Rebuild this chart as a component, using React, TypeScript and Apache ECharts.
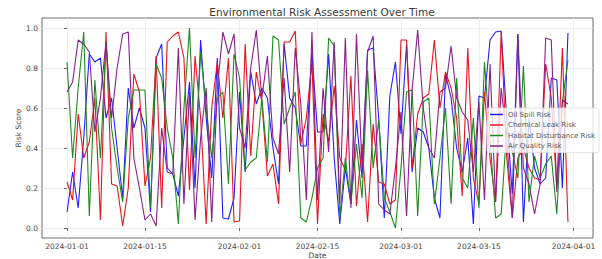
import React, { useEffect, useRef } from "react";
import * as echarts from "echarts";

const startDate = "2024-01-01";
const tickLabels = ["2024-01-01", "2024-01-15", "2024-02-01", "2024-02-15", "2024-03-01", "2024-03-15", "2024-04-01"];
const yTicks = [0, 0.2, 0.4, 0.6, 0.8, 1.0];
const seriesNames = ["Oil Spill Risk", "Chemical Leak Risk", "Habitat Disturbance Risk", "Air Quality Risk"];
const seriesColors = ["#1f1fff", "#e8141a", "#1f8a1f", "#8a1f8a"];

const oilSpill = [
  0.08, 0.28, 0.10, 0.45, 0.87, 0.83, 0.85, 0.55, 0.65, 0.40,
  0.15, 0.70, 0.50, 0.60, 0.50, 0.08, 0.85, 0.92, 0.30, 0.27,
  0.16, 0.45, 0.73, 0.20, 0.94, 0.55, 0.25, 0.85, 0.05, 0.045,
  0.15, 0.68, 0.28, 0.78, 0.62, 0.70, 0.65, 0.40, 0.22, 0.92,
  0.65, 0.60, 0.41, 0.41, 0.88, 0.48, 0.48, 0.87, 0.35, 0.02,
  0.30, 0.12, 0.54, 0.25, 0.89, 0.90, 0.55, 0.05, 0.66, 0.83,
  0.47, 0.92, 0.28, 0.50, 0.48, 0.40, 0.15, 0.05, 0.77, 0.65,
  0.40, 0.28, 0.45, 0.02, 0.66, 0.65, 0.94, 0.98, 0.985, 0.55,
  0.17, 0.97, 0.03, 0.55, 0.30, 0.22, 0.25, 0.75, 0.74, 0.20,
  0.975,
];
const chemicalLeak = [
  0.23, 0.14, 0.57, 0.35, 0.43, 0.65, 0.04, 0.98, 0.22, 0.21,
  0.01, 0.20, 0.77, 0.68, 0.21, 0.35, 0.86, 0.10, 0.93, 0.96,
  0.98, 0.85, 0.19, 0.86, 0.55, 0.02, 0.60, 0.83, 0.55, 0.85,
  0.03, 0.035, 0.92, 0.36, 0.78, 0.63, 0.26, 0.32, 0.12, 0.93,
  0.93, 0.985, 0.42, 0.55, 0.83, 0.02, 0.57, 0.43, 0.71, 0.35,
  0.29, 0.76, 0.11, 0.42, 0.03, 0.52, 0.23, 0.22, 0.12, 0.14,
  0.94, 0.94, 0.30, 0.57, 0.65, 0.67, 0.94, 0.60, 0.78, 0.70,
  0.55, 0.16, 0.90, 0.25, 0.12, 0.68, 0.35, 0.13, 0.98, 0.35,
  0.05, 0.35, 0.40, 0.30, 0.25, 0.24, 0.82, 0.65, 0.20, 0.90,
  0.03,
];
const habitatDisturbance = [
  0.83, 0.35, 0.70, 0.98, 0.06, 0.74, 0.35, 0.93, 0.50, 0.30,
  0.13, 0.55, 0.69, 0.69, 0.69, 0.10, 0.82, 0.75, 0.50, 0.35,
  0.02, 0.60, 1.00, 0.35, 0.88, 0.60, 0.35, 0.65, 0.68, 0.22,
  0.87, 0.75, 0.29, 0.33, 0.35, 0.65, 0.33, 0.96, 0.94, 0.52,
  0.60, 0.68, 0.05, 0.03, 0.15, 0.30, 0.35, 0.95, 0.91, 0.05,
  0.35, 0.12, 0.42, 0.15, 0.79, 0.30, 0.54, 0.15, 0.08, 0.00,
  0.30, 0.68, 0.69, 0.06, 0.63, 0.65, 0.12, 0.35, 0.60, 0.12,
  0.75, 0.25, 0.20, 0.55, 0.10, 0.83, 0.45, 0.05, 0.07, 0.50,
  0.38, 0.25, 0.81, 0.13, 0.36, 0.25, 0.32, 0.36, 0.07, 0.63,
  0.84,
];
const airQuality = [
  0.68, 0.73, 0.94, 0.92, 0.88, 0.48, 0.65, 0.93, 0.55, 0.80,
  0.97, 0.98, 0.35, 0.20, 0.04, 0.07, 0.01, 0.50, 0.28, 0.27,
  0.90, 0.12, 0.68, 0.04, 0.45, 0.70, 0.03, 0.70, 0.98, 0.87,
  0.97, 0.50, 0.40, 0.80, 0.99, 0.65, 0.86, 0.45, 0.37, 0.75,
  0.28, 0.90, 0.62, 0.14, 0.98, 0.14, 0.70, 0.38, 0.93, 0.12,
  0.95, 0.10, 0.97, 0.30, 0.88, 0.96, 0.12, 0.09, 0.07, 0.30,
  0.58, 0.06, 0.69, 0.99, 0.60, 0.40, 0.35, 0.68, 0.70, 0.91,
  0.65, 0.58, 0.54, 0.28, 0.63, 0.14, 0.82, 0.13, 0.70, 0.45,
  0.05, 0.97, 0.30, 0.22, 0.07, 0.22, 0.95, 0.94, 0.18, 0.64,
  0.62,
];

const DAY = 86400000;

function fmtDate(v: number): string {
  const d = new Date(v);
  const p = (n: number) => String(n).padStart(2, "0");
  return `${d.getUTCFullYear()}-${p(d.getUTCMonth() + 1)}-${p(d.getUTCDate())}`;
}

export default function App() {
  const ref = useRef<HTMLDivElement>(null);
  useEffect(() => {
    if (!ref.current) return;
    const chart = echarts.init(ref.current, null, { renderer: "svg" });
    const t0 = Date.parse(startDate);
    const allSeries = [oilSpill, chemicalLeak, habitatDisturbance, airQuality];
    const n = oilSpill.length;
    const tickDays = tickLabels.map((s) => Math.round((Date.parse(s) - t0) / DAY));
    const font = "DejaVu Sans";
    chart.setOption({
      animation: false,
      backgroundColor: "#ffffff",
      textStyle: { fontFamily: font },
      title: {
        text: "Environmental Risk Assessment Over Time",
        left: 317,
        top: 1,
        textAlign: "center",
        textStyle: { fontSize: 10.5, fontWeight: "normal", color: "#3a3a3a", fontFamily: font },
      },
      grid: {
        left: 42,
        right: 9,
        top: 18,
        bottom: 21,
        outerBoundsMode: "none",
        containLabel: false,
        show: true,
        borderColor: "#444",
        borderWidth: 0.8,
        backgroundColor: "transparent",
      },
      legend: {
        orient: "vertical",
        left: 487,
        top: 108,
        data: seriesNames,
        icon: "rect",
        itemWidth: 13,
        itemHeight: 1.5,
        itemGap: 3.5,
        padding: [3, 4, 3, 3],
        backgroundColor: "rgba(255,255,255,0.8)",
        borderColor: "#ddd",
        borderWidth: 0.8,
        borderRadius: 2,
        textStyle: { fontSize: 7, color: "#555", fontFamily: font },
      },
      xAxis: {
        type: "value",
        min: -4.5,
        max: n - 1 + 4.5,
        name: "Date",
        nameLocation: "middle",
        nameGap: 13,
        nameMoveOverlap: false,
        nameTextStyle: { fontSize: 7.5, color: "#444" },
        axisLine: { show: false },
        axisTick: { show: true, customValues: tickDays, length: 3, lineStyle: { color: "#444", width: 0.8 } },
        axisLabel: {
          customValues: tickDays,
          formatter: (v: number) => fmtDate(t0 + v * DAY),
          fontSize: 7.5,
          color: "#444",
          margin: 4,
          hideOverlap: false,
          showMinLabel: true,
          showMaxLabel: true,
        },
        splitLine: { show: true, lineStyle: { color: "#ebebeb", width: 0.8 } },
      },
      yAxis: {
        type: "value",
        min: -0.05,
        max: 1.05,
        name: "Risk Score",
        nameLocation: "middle",
        nameGap: 20,
        nameMoveOverlap: false,
        nameRotate: 90,
        nameTextStyle: { fontSize: 7.5, color: "#444" },
        axisLine: { show: false },
        axisTick: { show: true, customValues: yTicks, length: 3, lineStyle: { color: "#444", width: 0.8 } },
        axisLabel: {
          customValues: yTicks,
          formatter: (v: number) => v.toFixed(1),
          fontSize: 7.5,
          color: "#444",
          margin: 4,
        },
        splitLine: { show: true, lineStyle: { color: "#ebebeb", width: 0.8 } },
      },
      series: allSeries.map((vals, k) => ({
        name: seriesNames[k],
        type: "line",
        data: vals.map((v, i) => [i, v]),
        showSymbol: false,
        symbol: "none",
        lineStyle: { width: 1.1, color: seriesColors[k] },
        itemStyle: { color: seriesColors[k] },
      })),
    });
    return () => chart.dispose();
  }, []);
  return <div ref={ref} style={{ position: "fixed", left: 0, top: 0, width: 602, height: 259 }} />;
}
